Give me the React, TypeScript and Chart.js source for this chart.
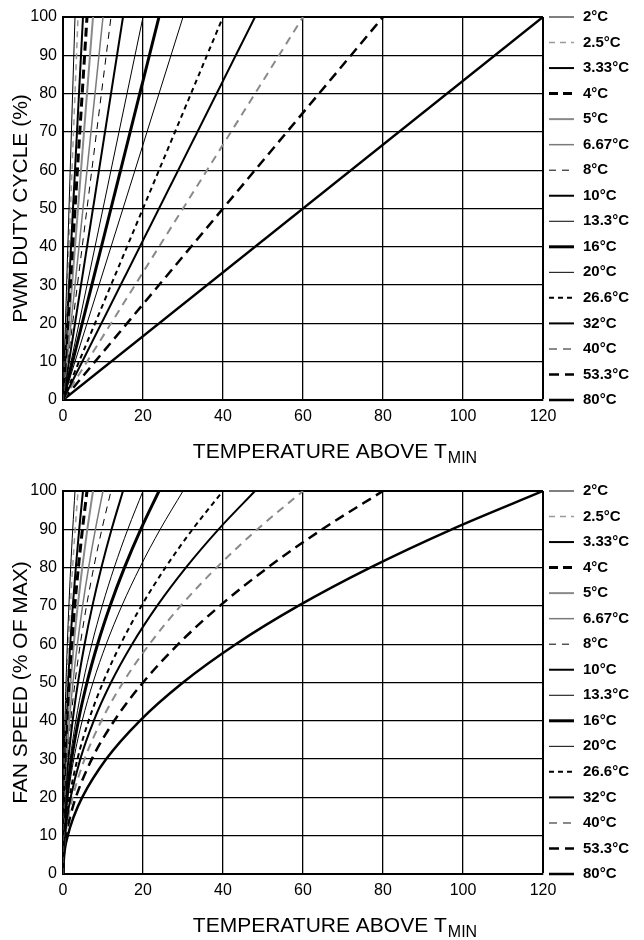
import React, { useEffect, useRef } from "react";
import { Chart, registerables } from "chart.js";

Chart.register(...registerables);

const FONT = "'Liberation Sans', Arial, Helvetica, sans-serif";

// Legend labels (temperature range setting)
const rangeLabels = ["2°C", "2.5°C", "3.33°C", "4°C", "5°C", "6.67°C", "8°C", "10°C", "13.3°C", "16°C", "20°C", "26.6°C", "32°C", "40°C", "53.3°C", "80°C"];

const fullScaleTemp = [3, 3.75, 5, 6, 7.5, 10, 12, 15, 20, 24, 30, 40, 48, 60, 80, 120];

// Bottom chart: fan speed levels, and the temperature at which each curve crosses them
const fanLevels = [0, 5, 10, 15, 20, 30, 40, 50, 60, 70, 80, 90, 100];
const fan2C = [0, 0.01, 0.03, 0.07, 0.12, 0.27, 0.48, 0.75, 1.08, 1.47, 1.92, 2.43, 3];
const fan2p5C = [0, 0.01, 0.04, 0.08, 0.15, 0.34, 0.6, 0.94, 1.35, 1.84, 2.4, 3.04, 3.75];
const fan3p33C = [0, 0.01, 0.05, 0.11, 0.2, 0.45, 0.8, 1.25, 1.8, 2.45, 3.2, 4.05, 5];
const fan4C = [0, 0.02, 0.06, 0.14, 0.24, 0.54, 0.96, 1.5, 2.16, 2.94, 3.84, 4.86, 6];
const fan5C = [0, 0.02, 0.08, 0.17, 0.3, 0.68, 1.2, 1.88, 2.7, 3.68, 4.8, 6.08, 7.5];
const fan6p67C = [0, 0.03, 0.1, 0.23, 0.4, 0.9, 1.6, 2.5, 3.6, 4.9, 6.4, 8.1, 10];
const fan8C = [0, 0.03, 0.12, 0.27, 0.48, 1.08, 1.92, 3, 4.32, 5.88, 7.68, 9.72, 12];
const fan10C = [0, 0.04, 0.15, 0.34, 0.6, 1.35, 2.4, 3.75, 5.4, 7.35, 9.6, 12.15, 15];
const fan13p3C = [0, 0.05, 0.2, 0.45, 0.8, 1.8, 3.2, 5, 7.2, 9.8, 12.8, 16.2, 20];
const fan16C = [0, 0.06, 0.24, 0.54, 0.96, 2.16, 3.84, 6, 8.64, 11.76, 15.36, 19.44, 24];
const fan20C = [0, 0.08, 0.3, 0.68, 1.2, 2.7, 4.8, 7.5, 10.8, 14.7, 19.2, 24.3, 30];
const fan26p6C = [0, 0.1, 0.4, 0.9, 1.6, 3.6, 6.4, 10, 14.4, 19.6, 25.6, 32.4, 40];
const fan32C = [0, 0.12, 0.48, 1.08, 1.92, 4.32, 7.68, 12, 17.28, 23.52, 30.72, 38.88, 48];
const fan40C = [0, 0.15, 0.6, 1.35, 2.4, 5.4, 9.6, 15, 21.6, 29.4, 38.4, 48.6, 60];
const fan53p3C = [0, 0.2, 0.8, 1.8, 3.2, 7.2, 12.8, 20, 28.8, 39.2, 51.2, 64.8, 80];
const fan80C = [0, 0.3, 1.2, 2.7, 4.8, 10.8, 19.2, 30, 43.2, 58.8, 76.8, 97.2, 120];
const fanTemps = [fan2C, fan2p5C, fan3p33C, fan4C, fan5C, fan6p67C, fan8C, fan10C, fan13p3C, fan16C, fan20C, fan26p6C, fan32C, fan40C, fan53p3C, fan80C];

// Axis settings
const xMin = 0, xMax = 120, xStep = 20;
const yMin = 0, yMax = 100, yStep = 10;

// Line styles (per legend entry)
const GRAY = "#8a8a8a";
const lineColors = ["#000", "#9a9a9a", "#000", "#000", GRAY, "#7a7a7a", "#000", "#000", "#000", "#000", "#000", "#000", "#000", GRAY, "#000", "#000"];
const lineWidths = [1, 1.5, 2, 3, 2, 1.5, 1, 2, 1, 3, 1, 2, 2, 2, 2.5, 2.5];
const lineDashes: number[][] = [[], [6, 5], [], [9, 5], [], [], [7, 6], [], [], [], [], [5, 4], [], [8, 6], [10, 6], []];

function styleFor(i: number) {
  return {
    label: rangeLabels[i],
    borderColor: lineColors[i],
    borderWidth: lineWidths[i],
    borderDash: lineDashes[i],
    pointRadius: 0,
    fill: false,
  };
}

const pwmDatasets = rangeLabels.map((_, i) => ({
  ...styleFor(i),
  data: [{ x: 0, y: 0 }, { x: fullScaleTemp[i], y: 100 }],
}));

const fanDatasets = rangeLabels.map((_, i) => ({
  ...styleFor(i),
  cubicInterpolationMode: "monotone" as const,
  data: fanTemps[i].map((x, j) => ({ x, y: fanLevels[j] })),
}));

const sidePlugin = {
  id: "sideLegendAndTitle",
  afterDraw(chart: any) {
    const { ctx, chartArea } = chart;
    const sets = chart.data.datasets;
    const n = sets.length;
    const step = (chartArea.bottom - chartArea.top) / (n - 1);
    ctx.save();
    for (let i = 0; i < n; i++) {
      const ds = sets[i];
      const y = chartArea.top + i * step;
      ctx.beginPath();
      ctx.strokeStyle = ds.borderColor;
      ctx.lineWidth = ds.borderWidth;
      ctx.setLineDash(ds.borderDash || []);
      ctx.moveTo(chartArea.right + 6, y);
      ctx.lineTo(chartArea.right + 31, y);
      ctx.stroke();
      ctx.setLineDash([]);
      ctx.fillStyle = "#000";
      ctx.font = `bold 15px ${FONT}`;
      ctx.textBaseline = "middle";
      ctx.textAlign = "left";
      ctx.fillText(ds.label, chartArea.right + 40, y);
    }
    // X axis title with subscript
    const main = "TEMPERATURE ABOVE T";
    const sub = "MIN";
    ctx.font = `21px ${FONT}`;
    const wMain = ctx.measureText(main).width;
    ctx.font = `16px ${FONT}`;
    const wSub = ctx.measureText(sub).width;
    const total = wMain + wSub + 1;
    const cx = chartArea.left + 272;
    const x0 = cx - total / 2;
    const base = chartArea.bottom + 58;
    ctx.textBaseline = "alphabetic";
    ctx.font = `21px ${FONT}`;
    ctx.fillText(main, x0, base);
    ctx.font = `16px ${FONT}`;
    ctx.fillText(sub, x0 + wMain + 1, base + 5);
    ctx.restore();
  },
};

function Panel({ top, yTitle, datasets }: { top: number; yTitle: string; datasets: any[] }) {
  const ref = useRef<HTMLCanvasElement>(null);
  useEffect(() => {
    const chart = new Chart(ref.current as HTMLCanvasElement, {
      type: "line",
      data: { datasets },
      options: {
        responsive: false,
        animation: false,
        devicePixelRatio: 1,
        layout: { padding: { top: 17, right: 101, bottom: 0, left: 0 } },
        plugins: { legend: { display: false }, tooltip: { enabled: false } },
        elements: { line: { tension: 0 } },
        scales: {
          x: {
            type: "linear",
            min: xMin,
            max: xMax,
            ticks: { stepSize: xStep, padding: 7, color: "#000", font: { family: FONT, size: 16 }, maxRotation: 0 },
            grid: {
              color: "#000",
              drawTicks: false,
              lineWidth: (c: any) => (c.tick && c.tick.value === xMax ? 2 : 1.3),
            },
            border: { color: "#000", width: 2 },
            afterFit: (s: any) => { s.height = 66; },
          },
          y: {
            type: "linear",
            min: yMin,
            max: yMax,
            ticks: { stepSize: yStep, padding: 6, color: "#000", font: { family: FONT, size: 16 } },
            grid: {
              color: "#000",
              drawTicks: false,
              lineWidth: (c: any) => (c.tick && c.tick.value === yMax ? 2 : 1.3),
            },
            border: { color: "#000", width: 2 },
            title: { display: true, text: yTitle, color: "#000", font: { family: FONT, size: 21 }, padding: { top: 9, bottom: 0 } },
            afterFit: (s: any) => { s.width = 63; },
          },
        },
      } as any,
      plugins: [sidePlugin],
    });
    return () => chart.destroy();
  }, []);
  return (
    <canvas
      ref={ref}
      width={644}
      height={466}
      style={{ position: "absolute", left: 0, top, width: 644, height: 466, display: "block" }}
    />
  );
}

export default function App() {
  return (
    <div style={{ position: "absolute", left: 0, top: 0, width: 644, height: 940, background: "#fff" }}>
      <Panel top={0} yTitle="PWM DUTY CYCLE (%)" datasets={pwmDatasets} />
      <Panel top={474} yTitle="FAN SPEED (% OF MAX)" datasets={fanDatasets} />
    </div>
  );
}
